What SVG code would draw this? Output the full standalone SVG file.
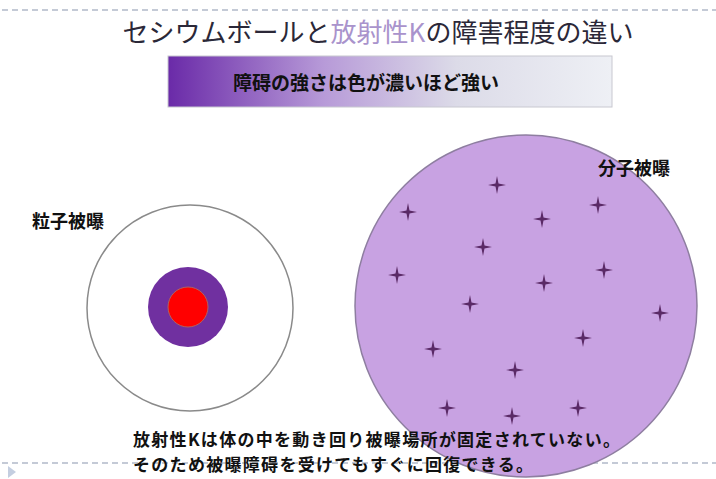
<svg xmlns="http://www.w3.org/2000/svg" width="716" height="479" viewBox="0 0 716 479">
  <style>
    .jp { font-family: "Noto Sans CJK JP", "Noto Sans", sans-serif; }
    .dash { stroke: #c4cad6; stroke-width: 2; stroke-dasharray: 6 4; fill: none; }
    .lbl { font-size: 18px; font-weight: bold; fill: #111; }
    .body { font-size: 17px; font-weight: bold; fill: #111; letter-spacing: 1.3px; }
  </style>
  <defs>
    <linearGradient id="band" x1="0" y1="0" x2="1" y2="0">
      <stop offset="0" stop-color="#6a2aa8"/>
      <stop offset="0.35" stop-color="#b79ad8"/>
      <stop offset="0.65" stop-color="#dcdbe8"/>
      <stop offset="1" stop-color="#eef0f5"/>
    </linearGradient>
    <path id="star" d="M0,-9 L1.5,-1.5 L9,0 L1.5,1.5 L0,9 L-1.5,1.5 L-9,0 L-1.5,-1.5 Z" fill="#5a2a66"/>
  </defs>
  <rect width="716" height="479" fill="#ffffff"/>

  <line class="dash" x1="2" y1="10" x2="716" y2="10"/>
  <line class="dash" x1="2" y1="463" x2="716" y2="463"/>
  <polygon points="8,466 16,472 8,478" fill="#c4cee0"/>

  <g id="title">
    <text class="jp" x="378" y="42" font-size="26" text-anchor="middle" fill="#2b2838"><tspan>セシウムボールと</tspan><tspan fill="#a993cc">放射性K</tspan><tspan>の障害程度の違い</tspan></text>
  </g>

  <g id="legend-banner">
    <rect x="168" y="56" width="444" height="51" fill="url(#band)" stroke="#c8c8d0" stroke-width="1"/>
    <text class="jp" x="366" y="90" font-size="19" font-weight="bold" text-anchor="middle" fill="#111">障碍の強さは色が濃いほど強い</text>
  </g>

  <g id="particle">
    <circle cx="190" cy="308" r="103" fill="#ffffff" stroke="#8a8a8a" stroke-width="1.5"/>
    <circle cx="188" cy="307" r="40" fill="#7030a0"/>
    <circle cx="188" cy="307" r="20" fill="#ff0000" stroke="#b06060" stroke-width="1"/>
    <text class="jp lbl" x="32" y="228">粒子被曝</text>
  </g>

  <g id="molecule">
    <circle cx="526" cy="306" r="171" fill="#c8a2e2" stroke="#8e7ea0" stroke-width="1.5"/>
    <use href="#star" x="497" y="185"/>
    <use href="#star" x="408" y="212"/>
    <use href="#star" x="598" y="205"/>
    <use href="#star" x="542" y="219"/>
    <use href="#star" x="483" y="247"/>
    <use href="#star" x="397" y="275"/>
    <use href="#star" x="604" y="270"/>
    <use href="#star" x="544" y="283"/>
    <use href="#star" x="470" y="304"/>
    <use href="#star" x="660" y="313"/>
    <use href="#star" x="433" y="349"/>
    <use href="#star" x="583" y="338"/>
    <use href="#star" x="515" y="370"/>
    <use href="#star" x="447" y="408"/>
    <use href="#star" x="512" y="416"/>
    <use href="#star" x="578" y="408"/>
    <text class="jp lbl" x="598" y="175">分子被曝</text>
  </g>

  <g id="note">
    <text class="jp body" x="133" y="446">放射性Kは体の中を動き回り被曝場所が固定されていない。</text>
    <text class="jp body" x="133" y="471">そのため被曝障碍を受けてもすぐに回復できる。</text>
  </g>
</svg>
